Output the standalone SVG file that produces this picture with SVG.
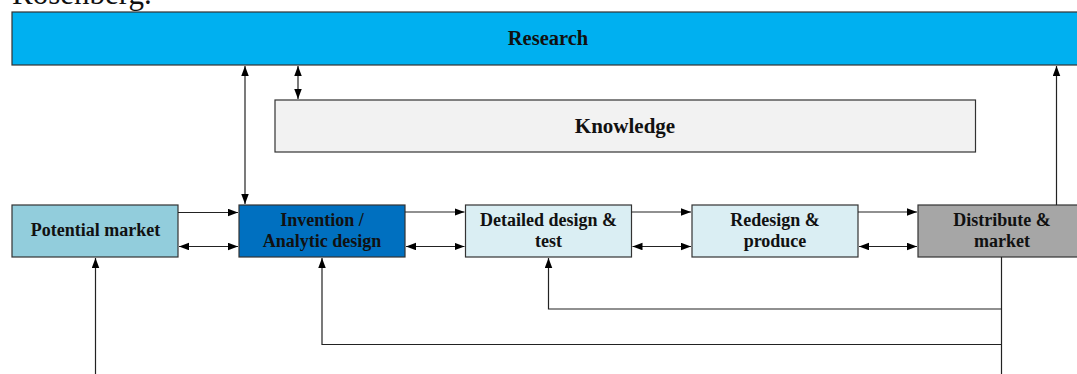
<svg xmlns="http://www.w3.org/2000/svg" width="1077" height="374" viewBox="0 0 1077 374">
  <defs>
    <marker id="arrow" markerUnits="userSpaceOnUse" markerWidth="11" markerHeight="8" refX="10" refY="3.75" orient="auto-start-reverse">
      <path d="M0,0 L10,3.75 L0,7.5 Z" fill="#000"/>
    </marker>
    <style>
      .box { stroke: #333; stroke-width: 1.2; }
      .lbl { font-family: "Liberation Serif", "Times New Roman", serif; font-weight: bold; fill: #111; text-anchor: middle; }
      .row { font-size: 18px; }
      .conn { fill: none; stroke: #222; stroke-width: 1.2; }
      .one { marker-end: url(#arrow); }
      .two { marker-start: url(#arrow); marker-end: url(#arrow); }
    </style>
  </defs>

  <!-- caption line running in from above -->
  <text x="12" y="3.5" font-family="Liberation Serif, serif" font-size="31" fill="#111">Rosenberg.</text>

  <g id="research">
    <rect class="box" x="12" y="12" width="1074" height="53" fill="#00B0F0"/>
    <text class="lbl" x="548" y="45" font-size="20.5">Research</text>
  </g>

  <g id="knowledge">
    <rect class="box" x="275" y="100" width="700.5" height="52" fill="#F2F2F2"/>
    <text class="lbl" x="625" y="133" font-size="21">Knowledge</text>
  </g>

  <g id="potential-market">
    <rect class="box" x="12" y="205" width="166" height="52" fill="#92CDDC"/>
    <text class="lbl row" x="95.5" y="236">Potential market</text>
  </g>

  <g id="invention">
    <rect class="box" x="239" y="205" width="166" height="52" fill="#0070C0"/>
    <text class="lbl row" x="322" y="226">Invention /</text>
    <text class="lbl row" x="322" y="246.5">Analytic design</text>
  </g>

  <g id="detailed-design">
    <rect class="box" x="465.5" y="205" width="166" height="52" fill="#DAEEF3"/>
    <text class="lbl row" x="548.5" y="226">Detailed design &amp;</text>
    <text class="lbl row" x="548.5" y="246.5">test</text>
  </g>

  <g id="redesign">
    <rect class="box" x="692" y="205" width="166" height="52" fill="#DAEEF3"/>
    <text class="lbl row" x="775" y="226">Redesign &amp;</text>
    <text class="lbl row" x="775" y="246.5">produce</text>
  </g>

  <g id="distribute">
    <rect class="box" x="918" y="205" width="168" height="52" fill="#A6A6A6"/>
    <text class="lbl row" x="1002" y="226">Distribute &amp;</text>
    <text class="lbl row" x="1002" y="246.5">market</text>
  </g>

  <g id="connectors">
    <!-- links to research and knowledge -->
    <line class="conn two" x1="245" y1="66" x2="245" y2="204"/>
    <line class="conn two" x1="298" y1="66" x2="298" y2="99"/>
    <line class="conn one" x1="1056.5" y1="205" x2="1056.5" y2="66"/>

    <!-- forward flow along the chain -->
    <line class="conn one" x1="178" y1="212.5" x2="238" y2="212.5"/>
    <line class="conn one" x1="405" y1="212" x2="464.5" y2="212"/>
    <line class="conn one" x1="631.5" y1="212" x2="691" y2="212"/>
    <line class="conn one" x1="858" y1="212" x2="917" y2="212"/>

    <!-- two-way exchanges between neighbours -->
    <line class="conn two" x1="179" y1="246.5" x2="238" y2="246.5"/>
    <line class="conn two" x1="406" y1="246.5" x2="464.5" y2="246.5"/>
    <line class="conn two" x1="632.5" y1="246.5" x2="691" y2="246.5"/>
    <line class="conn two" x1="859" y1="246.5" x2="917" y2="246.5"/>

    <!-- feedback loops from the market -->
    <line class="conn" x1="1001.5" y1="257" x2="1001.5" y2="374"/>
    <polyline class="conn one" points="1001.5,309 548.5,309 548.5,258"/>
    <polyline class="conn one" points="1001.5,344.5 322,344.5 322,258"/>
    <line class="conn one" x1="95.5" y1="374" x2="95.5" y2="258"/>
  </g>
</svg>
